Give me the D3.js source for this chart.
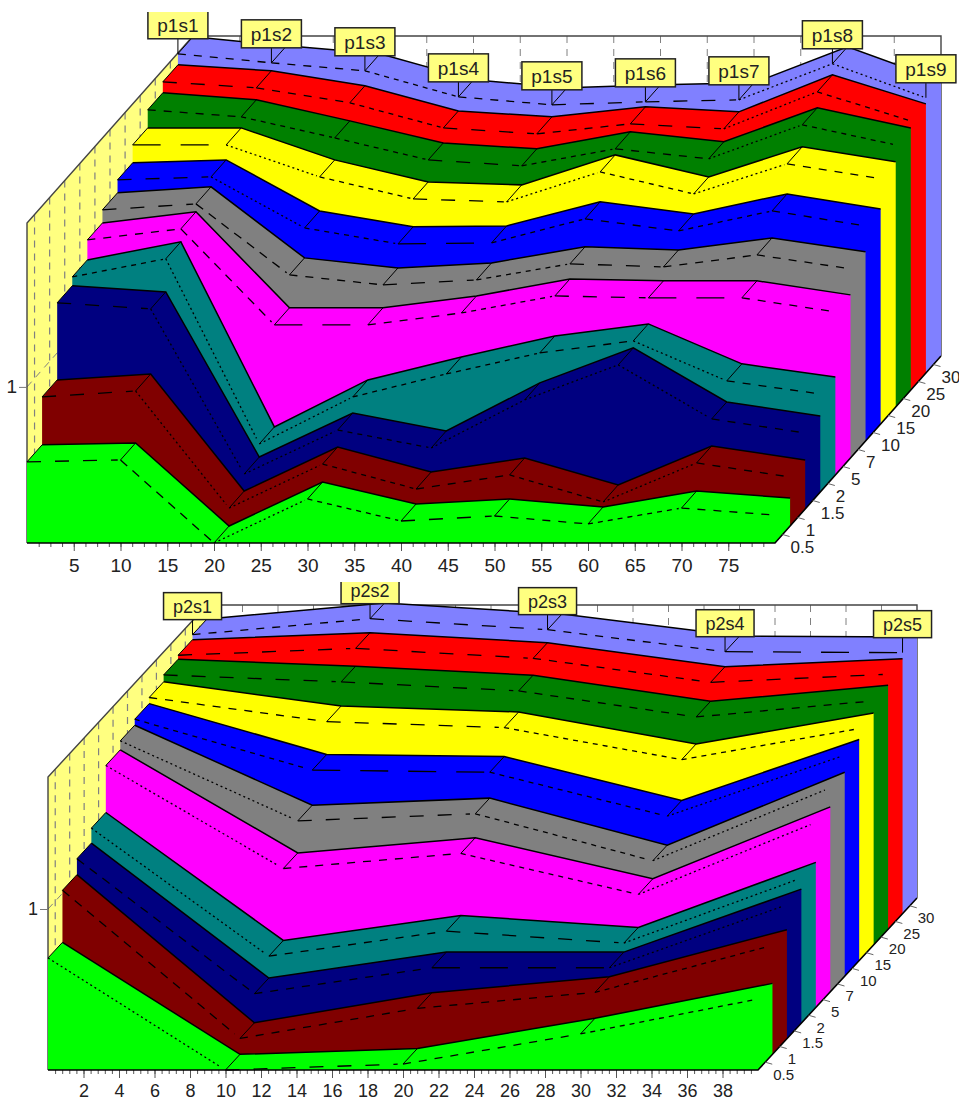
<!DOCTYPE html>
<html>
<head>
<meta charset="utf-8">
<style>
  html, body { margin: 0; background: #fff; }
  text { font-family: "Liberation Sans", Arial, sans-serif; fill: #222; }
</style>
<script src="https://cdn.jsdelivr.net/npm/d3@7"></script>
</head>
<body>
<svg id="chart" width="959" height="1101"></svg>
<script>
// depth axis + colours, front to back
const depthLabels = ["0.5", "1", "1.5", "2", "5", "7", "10", "15", "20", "25", "30"];
const depthColors = ["#00ff00", "#800000", "#000080", "#008080", "#ff00ff", "#808080", "#0000ff", "#ffff00", "#008000", "#ff0000", "#8080ff"];

// top chart
const p1X = [0, 10, 20, 30, 40, 50, 60, 70, 80];
const p1Ticks = [5, 10, 15, 20, 25, 30, 35, 40, 45, 50, 55, 60, 65, 70, 75];
const p1Marks = ["p1s1", "p1s2", "p1s3", "p1s4", "p1s5", "p1s6", "p1s7", "p1s8", "p1s9"];
const p1D05 = [0.52, 0.532, 0, 0.282, 0.141, 0.173, 0.122, 0.224, 0.179];
const p1D1 = [0.827, 0.865, 0.115, 0.397, 0.237, 0.327, 0.154, 0.404, 0.314];
const p1D15 = [1.321, 1.282, 0.224, 0.506, 0.391, 0.699, 0.923, 0.577, 0.487];
const p1D2 = [1.378, 1.494, 0.308, 0.609, 0.756, 0.891, 0.968, 0.712, 0.628];
const p1D5 = [1.506, 1.577, 0.962, 0.962, 1.038, 1.147, 1.135, 1.135, 1.045];
const p1D7 = [1.59, 1.628, 1.173, 1.109, 1.141, 1.244, 1.224, 1.301, 1.212];
const p1D10 = [1.673, 1.692, 1.365, 1.263, 1.269, 1.423, 1.346, 1.474, 1.378];
const p1D15b = [1.788, 1.788, 1.583, 1.442, 1.423, 1.615, 1.474, 1.667, 1.571];
const p1D20 = [1.904, 1.859, 1.724, 1.583, 1.545, 1.654, 1.59, 1.808, 1.679];
const p1D25 = [1.974, 1.936, 1.84, 1.679, 1.641, 1.705, 1.673, 1.91, 1.724];
const p1D30 = [2.045, 1.987, 1.936, 1.769, 1.718, 1.737, 1.75, 1.981, 1.763];

// bottom chart
const p2X = [0, 10, 20, 30, 40];
const p2Ticks = [2, 4, 6, 8, 10, 12, 14, 16, 18, 20, 22, 24, 26, 28, 30, 32, 34, 36, 38];
const p2Marks = ["p2s1", "p2s2", "p2s3", "p2s4", "p2s5"];
const p2D05 = [0.696, 0, 0.037, 0.224, 0.441];
const p2D1 = [1.019, 0.099, 0.286, 0.385, 0.677];
const p2D15 = [1.118, 0.28, 0.441, 0.441, 0.832];
const p2D2 = [1.211, 0.416, 0.571, 0.497, 0.901];
const p2D5 = [1.503, 0.863, 0.957, 0.702, 1.149];
const p2D7 = [1.559, 1.062, 1.106, 0.814, 1.267];
const p2D10 = [1.596, 1.28, 1.267, 0.994, 1.373];
const p2D15b = [1.634, 1.484, 1.447, 1.248, 1.441];
const p2D20 = [1.677, 1.634, 1.578, 1.416, 1.516];
const p2D25 = [1.702, 1.745, 1.683, 1.534, 1.584];
const p2D30 = [1.733, 1.832, 1.764, 1.627, 1.621];

const svg = d3.select("#chart");
const defs = svg.append("defs");

drawPanel({
  id: "p1", xs: p1X, ticks: p1Ticks, marks: p1Marks, minorStep: 1.25,
  series: [p1D05, p1D1, p1D15, p1D2, p1D5, p1D7, p1D10, p1D15b, p1D20, p1D25, p1D30],
  xRange: [27, 775], xMax: 80, floor: 543, top: 223, yMax: 2.05,
  depthX: 166, depthY: 187, font: 19, depthFont: 17, tickPad: 8, clipTop: 12, boxW: 60, boxH: 28
});

drawPanel({
  id: "p2", xs: p2X, ticks: p2Ticks, marks: p2Marks, minorStep: 0.4,
  series: [p2D05, p2D1, p2D15, p2D2, p2D5, p2D7, p2D10, p2D15b, p2D20, p2D25, p2D30],
  xRange: [48, 758], xMax: 40, floor: 1070, top: 777, yMax: 1.82,
  depthX: 159, depthY: 172, font: 18, depthFont: 15, tickPad: 6, clipTop: 582, boxW: 58, boxH: 27
});

function dashFor(slope) {
  // the pen looks different depending on the angle of the segment
  const s = Math.abs(slope);
  if (s < 0.015) return "28 20";
  if (s < 0.07) return "14 14";
  if (s < 0.17) return "8 8";
  if (s < 0.32) return "5 5";
  if (s < 0.75) return "2 3";
  if (s < 1.1) return "9 7";
  return "2 3";
}

function drawPanel(cfg) {
  const g = svg.append("g").attr("id", cfg.id);
  const x = d3.scaleLinear().domain([0, cfg.xMax]).range(cfg.xRange);
  const y = d3.scaleLinear().domain([0, cfg.yMax]).range([cfg.floor, cfg.top]);
  const zx = d3.scaleLinear().domain([0, depthLabels.length]).range([0, cfg.depthX]);
  const zy = d3.scaleLinear().domain([0, depthLabels.length]).range([0, cfg.depthY]);
  const px = (v, k) => x(v) + zx(k);
  const py = (v, k) => y(v) - zy(k);
  const n = depthLabels.length;
  const line = d3.line();
  const xEnd = cfg.xMax;

  // walls
  g.append("path")
    .attr("d", line([[px(0, 0), cfg.floor], [px(0, 0), cfg.top], [px(0, n), cfg.top - cfg.depthY], [px(0, n), cfg.floor - cfg.depthY]]) + "Z")
    .attr("fill", "#ffff80");

  cfg.ticks.forEach(t => {
    g.append("line")
      .attr("x1", px(t, n)).attr("x2", px(t, n))
      .attr("y1", cfg.top - cfg.depthY).attr("y2", cfg.floor - cfg.depthY)
      .attr("stroke", "#808080").attr("stroke-dasharray", "7 6");
  });

  depthLabels.forEach((d, k) => {
    g.append("line")
      .attr("x1", px(0, k + 0.5)).attr("x2", px(0, k + 0.5))
      .attr("y1", cfg.top - zy(k + 0.5)).attr("y2", cfg.floor - zy(k + 0.5))
      .attr("stroke", "#808080").attr("stroke-width", 1.2).attr("stroke-dasharray", "7 6");
  });

  g.append("line")
    .attr("x1", px(0, 0)).attr("y1", y(1))
    .attr("x2", px(0, n)).attr("y2", y(1) - cfg.depthY)
    .attr("stroke", "#808080").attr("stroke-dasharray", "7 6");

  g.append("path")
    .attr("d", line([[px(0, 0), cfg.floor], [px(0, 0), cfg.top], [px(0, n), cfg.top - cfg.depthY],
      [px(xEnd, n), cfg.top - cfg.depthY], [px(xEnd, n), cfg.floor - cfg.depthY]]))
    .attr("fill", "none").attr("stroke", "#444").attr("stroke-width", 1.4);

  // ribbons, back one first
  d3.range(n - 1, -1, -1).forEach(k => {
    const vals = cfg.series[k];
    const back = cfg.xs.map((xv, i) => [px(xv, k + 1), py(vals[i], k + 1)]);
    const front = cfg.xs.map((xv, i) => [px(xv, k), py(vals[i], k)]);

    const outline = [[px(0, k), cfg.floor - zy(k)], front[0]]
      .concat(back)
      .concat([[px(xEnd, k + 1), cfg.floor - zy(k + 1)], [px(xEnd, k), cfg.floor - zy(k)]]);

    g.append("path").attr("d", line(outline) + "Z").attr("fill", depthColors[k]);

    g.append("path")
      .attr("d", line(back))
      .attr("fill", "none").attr("stroke", "#000").attr("stroke-width", 1.5);

    // edges going into the depth at each point
    front.forEach((p, i) => {
      if (i === front.length - 1) return;
      g.append("line")
        .attr("x1", p[0]).attr("y1", p[1])
        .attr("x2", back[i][0]).attr("y2", back[i][1])
        .attr("stroke", "#000");
    });

    // front edge, pen style changes with the slope
    d3.pairs(front).forEach(([a, b]) => {
      const end = [a[0] + (b[0] - a[0]) * 0.97, a[1] + (b[1] - a[1]) * 0.97];
      g.append("path")
        .attr("d", line([a, end]))
        .attr("fill", "none").attr("stroke", "#000").attr("stroke-width", 1.3)
        .attr("stroke-dasharray", dashFor((b[1] - a[1]) / (b[0] - a[0])));
    });
  });

  // bottom axis
  const minor = d3.range(cfg.minorStep, cfg.xMax, cfg.minorStep);
  g.append("g").attr("transform", `translate(0,${cfg.floor})`)
    .call(d3.axisBottom(x).tickValues(minor).tickSize(4).tickFormat(""))
    .call(a => a.select(".domain").remove())
    .selectAll("line").attr("stroke", "#555");

  const xAxis = g.append("g").attr("transform", `translate(0,${cfg.floor})`)
    .call(d3.axisBottom(x).tickValues(cfg.ticks).tickSize(8).tickPadding(cfg.tickPad));
  xAxis.select(".domain").remove();
  xAxis.selectAll("line").attr("stroke", "#555");
  xAxis.selectAll("text").attr("fill", null).style("font-size", cfg.font + "px").style("font-family", '"Liberation Sans"');

  // left axis, only the 1 is labelled
  const yAxis = g.append("g").attr("transform", `translate(${cfg.xRange[0]},0)`)
    .call(d3.axisLeft(y).tickValues([1]).tickSize(8).tickPadding(2).tickFormat(d3.format("d")));
  yAxis.select(".domain").remove();
  yAxis.selectAll("line").attr("stroke", "#777");
  yAxis.selectAll("text").attr("fill", null).style("font-size", cfg.font + "px").style("font-family", '"Liberation Sans"');

  // floor edges
  g.append("path")
    .attr("d", line([[px(0, 0), cfg.floor], [px(xEnd, 0), cfg.floor], [px(xEnd, n), cfg.floor - cfg.depthY]]))
    .attr("fill", "none").attr("stroke", "#000").attr("stroke-width", 1.6);

  // depth axis
  depthLabels.forEach((d, k) => {
    const ax = px(xEnd, k + 0.5);
    const ay = cfg.floor - zy(k + 0.5);
    g.append("line")
      .attr("x1", ax).attr("y1", ay).attr("x2", ax + 7).attr("y2", ay + 2)
      .attr("stroke", "#666");
    g.append("text")
      .attr("x", ax + 8).attr("y", ay + 12)
      .attr("dy", "0.36em")
      .style("font-size", cfg.depthFont + "px")
      .text(d);
  });

  // point marks on the back series, cut off at the top of the picture
  defs.append("clipPath").attr("id", `${cfg.id}-clip`)
    .append("rect").attr("x", 0).attr("y", cfg.clipTop).attr("width", 959).attr("height", 560);

  const markG = g.append("g").attr("clip-path", `url(#${cfg.id}-clip)`);
  const lastVals = cfg.series[n - 1];
  cfg.marks.forEach((m, i) => {
    const tipX = px(cfg.xs[i], n - 1);
    const tipY = py(lastVals[i], n - 1);
    const boxBottom = tipY - 15;
    markG.append("line")
      .attr("x1", tipX).attr("x2", tipX)
      .attr("y1", tipY).attr("y2", boxBottom)
      .attr("stroke", "#000");
    markG.append("rect")
      .attr("x", tipX - cfg.boxW / 2).attr("y", boxBottom - cfg.boxH)
      .attr("width", cfg.boxW).attr("height", cfg.boxH)
      .attr("fill", "#ffff80").attr("stroke", "#222").attr("stroke-width", 1.5);
    markG.append("text")
      .attr("x", tipX).attr("y", boxBottom - cfg.boxH / 2)
      .attr("dy", "0.36em").attr("text-anchor", "middle")
      .style("font-size", cfg.font + "px")
      .text(m);
  });
}
</script>
</body>
</html>
